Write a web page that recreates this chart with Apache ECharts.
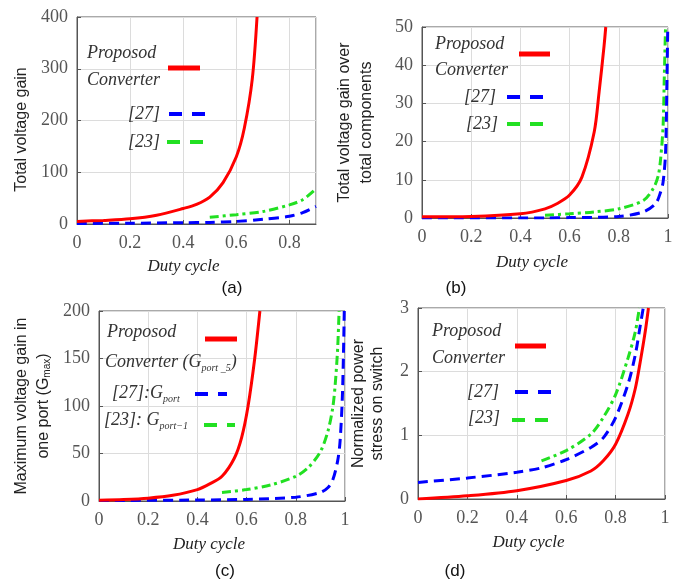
<!DOCTYPE html>
<html>
<head>
<meta charset="utf-8">
<title>Converter comparison versus duty cycle</title>
<script src="https://cdn.jsdelivr.net/npm/echarts@6/dist/echarts.min.js"></script>
<style>
  html, body { margin: 0; padding: 0; background: #fff; }
  #chart { width: 683px; height: 580px; }
</style>
</head>
<body>
<div id="chart"></div>
<script>
// ---- (a) total voltage gain ----
const dutyPropA = [0, 0.1, 0.2, 0.3, 0.4, 0.45, 0.5, 0.55, 0.6, 0.63, 0.66, 0.678];
const gainPropA = [5, 7, 10, 17, 30, 38, 52, 80, 130, 185, 280, 400];
const duty27A = [0, 0.2, 0.4, 0.5, 0.6, 0.7, 0.8, 0.85, 0.9];
const gain27A = [1, 1.5, 2.5, 3, 5, 9, 15, 22, 34];
const duty23A = [0.5, 0.6, 0.7, 0.8, 0.85, 0.9];
const gain23A = [13, 18, 24, 37, 47, 68];

// ---- (b) total voltage gain over total components ----
const dutyPropB = [0, 0.2, 0.4, 0.5, 0.55, 0.6, 0.65, 0.7, 0.72, 0.74, 0.747];
const gainPropB = [0.3, 0.4, 1.1, 2.4, 3.8, 6, 10.7, 22.5, 33, 45, 50];
const duty27B = [0, 0.5, 0.6, 0.8, 0.9, 0.95, 0.97, 0.98, 0.99, 0.995, 0.999];
const gain27B = [0, 0, 0.1, 0.4, 1.6, 3.8, 6.8, 9.4, 17, 33, 50];
const duty23B = [0.5, 0.6, 0.7, 0.8, 0.9, 0.94, 0.96, 0.97, 0.98, 0.985, 0.99];
const gain23B = [0.7, 1.1, 1.6, 2.4, 4.6, 7.7, 11, 15.5, 24, 37, 50];

// ---- (c) maximum voltage gain in one port ----
const dutyPropC = [0, 0.1, 0.2, 0.3, 0.4, 0.45, 0.5, 0.55, 0.58, 0.606, 0.633, 0.654];
const gainPropC = [0.7, 1.5, 3, 6, 12, 18, 26, 45, 67, 100, 150, 200];
const duty27C = [0, 0.4, 0.6, 0.8, 0.9, 0.93, 0.95, 0.97, 0.98, 0.99, 0.997];
const gain27C = [0.5, 1, 1.7, 4, 9, 14, 22, 42, 63, 115, 200];
const duty23C = [0.5, 0.6, 0.7, 0.8, 0.85, 0.9, 0.93, 0.95, 0.96, 0.97, 0.976];
const gain23C = [9, 12, 17, 26, 35, 52, 73, 98, 122, 160, 200];

// ---- (d) normalized power stress on switch ----
const dutyPropD = [0, 0.2, 0.4, 0.6, 0.7, 0.75, 0.8, 0.85, 0.88, 0.9, 0.92, 0.933];
const stressPropD = [0, 0.05, 0.13, 0.29, 0.44, 0.6, 0.86, 1.33, 1.74, 2.16, 2.63, 3];
const duty27D = [0, 0.2, 0.4, 0.5, 0.6, 0.7, 0.75, 0.8, 0.85, 0.88, 0.9, 0.912];
const stress27D = [0.26, 0.33, 0.42, 0.49, 0.62, 0.81, 0.96, 1.28, 1.8, 2.27, 2.73, 3];
const duty23D = [0.5, 0.6, 0.7, 0.75, 0.8, 0.85, 0.88, 0.896];
const stress23D = [0.6, 0.76, 1.02, 1.28, 1.64, 2.21, 2.63, 3];

// axis ranges and labels
const xMaxes = [0.9, 1, 1, 1];
const yMaxes = [400, 50, 200, 3];
const yIntervals = [100, 10, 50, 1];
const yTitles = [
  'Total voltage gain',
  'Total voltage gain over\ntotal components',
  'Maximum voltage gain in\none port (G{s|max})',
  'Normalized power\nstress on switch'
];
const panelTags = ['(a)', '(b)', '(c)', '(d)'];
const xTitle = 'Duty cycle';

const SERIF = 'Liberation Serif';
const SANS = 'Liberation Sans';

const RED = '#ff0000', BLUE = '#0000ff', GREEN = '#22e022';

const grids = [
  { left: 77, top: 17, width: 239, height: 207 },
  { left: 422, top: 27, width: 246, height: 191 },
  { left: 99, top: 311, width: 246, height: 190 },
  { left: 418, top: 308, width: 247, height: 191 }
];
const yNameGaps = [45, 44, 44, 31];
const yNameLineHeights = [20, 22, 22, 19];
const yNamePads = [[0, 18, 0, 0], 0, 0, 0];
const xNameGaps = [34, 36, 35, 35];

function pairs(xs, ys) { return xs.map((x, i) => [x, ys[i]]); }

const curveSets = [
  [pairs(dutyPropA, gainPropA), pairs(duty27A, gain27A), pairs(duty23A, gain23A)],
  [pairs(dutyPropB, gainPropB), pairs(duty27B, gain27B), pairs(duty23B, gain23B)],
  [pairs(dutyPropC, gainPropC), pairs(duty27C, gain27C), pairs(duty23C, gain23C)],
  [pairs(dutyPropD, stressPropD), pairs(duty27D, stress27D), pairs(duty23D, stress23D)]
];
const lineStyles = [
  { color: RED, width: 3 },
  { color: BLUE, width: 3, type: [10, 6] },
  { color: GREEN, width: 3, type: [9, 4, 3, 4] }
];
const seriesNames = ['Proposod Converter', '[27]', '[23]'];

const series = [];
curveSets.forEach((set, g) => {
  // green first, then blue, then red so the proposed curve stays on top
  [2, 1, 0].forEach(k => {
    series.push({
      type: 'line', name: seriesNames[k],
      xAxisIndex: g, yAxisIndex: g,
      data: set[k], showSymbol: false,
      smooth: 0.3,
      lineStyle: lineStyles[k], z: 3 + (2 - k)
    });
  });
});

const xAxes = grids.map((_, g) => ({
  type: 'value', gridIndex: g, min: 0, max: xMaxes[g], interval: 0.2,
  name: xTitle, nameLocation: 'middle', nameGap: xNameGaps[g],
  nameTextStyle: { fontFamily: SERIF, fontStyle: 'italic', fontSize: 17, color: '#222', padding: [0, 26, 0, 0] },
  axisLine: { show: true, lineStyle: { color: '#555', width: 1 } },
  axisTick: { show: true, inside: true, length: 4, lineStyle: { color: '#555' } },
  axisLabel: { fontFamily: SERIF, fontSize: 18, color: '#555', margin: 10, showMaxLabel: g !== 0 },
  splitLine: { show: true, lineStyle: { color: '#dcdcdc', width: 1 } }
}));

const yAxes = grids.map((_, g) => ({
  type: 'value', gridIndex: g, min: 0, max: yMaxes[g], interval: yIntervals[g],
  name: yTitles[g], nameLocation: 'middle', nameGap: yNameGaps[g],
  nameTextStyle: {
    fontFamily: SANS, fontSize: 16, color: '#222', lineHeight: yNameLineHeights[g],
    padding: yNamePads[g],
    rich: { s: { fontFamily: SANS, fontSize: 10, color: '#222', padding: [6, 0, 0, 0] } }
  },
  axisLine: { show: true, lineStyle: { color: '#555', width: 1 } },
  axisTick: { show: true, inside: true, length: 4, lineStyle: { color: '#555' } },
  axisLabel: { fontFamily: SERIF, fontSize: 18, color: '#555', margin: 9 },
  splitLine: { show: true, lineStyle: { color: '#dcdcdc', width: 1 } }
}));

// legend pieces
const legendFont = { fontFamily: SERIF, fontStyle: 'italic', fontSize: 18, fill: '#333' };
function label(x, y, text, align, rich) {
  return {
    type: 'text', x: x, y: y, z: 20,
    style: Object.assign({ text: text, textAlign: align, textVerticalAlign: 'middle', rich: rich || {} }, legendFont)
  };
}
function sample(x1, x2, y, color, width, dash) {
  return {
    type: 'line', z: 20,
    shape: { x1: x1, y1: y, x2: x2, y2: y },
    style: { stroke: color, lineWidth: width, lineDash: dash || null }
  };
}
const subRich = {
  sub: { fontFamily: SERIF, fontStyle: 'italic', fontSize: 10, fill: '#333', padding: [12, 0, 0, 0] }
};

const graphics = [
  // (a)
  label(87, 53, 'Proposod', 'left'), label(87, 80, 'Converter', 'left'),
  sample(168, 200, 68, RED, 5),
  label(160, 114, '[27]', 'right'), sample(169, 206, 114, BLUE, 4, [13, 10]),
  label(160, 142, '[23]', 'right'), sample(167, 203, 142, GREEN, 4, [13, 10]),
  // (b)
  label(435, 44, 'Proposod', 'left'), label(435, 70, 'Converter', 'left'),
  sample(519, 550, 54, RED, 5),
  label(496, 97, '[27]', 'right'), sample(507, 545, 97, BLUE, 4, [13, 10]),
  label(498, 124, '[23]', 'right'), sample(507, 544, 124, GREEN, 4, [13, 10]),
  // (c)
  label(107, 332, 'Proposod', 'left'),
  label(105, 362, 'Converter (G{sub|port _5})', 'left', subRich),
  sample(205, 237, 339, RED, 5),
  label(112, 393, '[27]:G{sub|port}', 'left', subRich), sample(195, 227, 394, BLUE, 4, [13, 10]),
  label(104, 420, '[23]: G{sub|port\u22121}', 'left', subRich), sample(204, 235, 425, GREEN, 4, [13, 10]),
  // (d)
  label(432, 331, 'Proposod', 'left'), label(432, 358, 'Converter', 'left'),
  sample(515, 546, 346, RED, 5),
  label(499, 392, '[27]', 'right'), sample(515, 552, 392, BLUE, 4, [13, 10]),
  label(500, 418, '[23]', 'right'), sample(512, 549, 420, GREEN, 4, [13, 10])
];
// panel tags
const tagPos = [[232, 288], [456, 288], [225, 571], [455, 571]];
panelTags.forEach((t, i) => {
  graphics.push({
    type: 'text', x: tagPos[i][0], y: tagPos[i][1], z: 20,
    style: { text: t, fontFamily: SANS, fontSize: 17, fill: '#111', textAlign: 'center', textVerticalAlign: 'middle' }
  });
});

const chart = echarts.init(document.getElementById('chart'), null, { renderer: 'canvas' });
chart.setOption({
  animation: false,
  backgroundColor: '#ffffff',
  grid: grids.map(g => Object.assign({ show: true, borderColor: '#555', borderWidth: 1, backgroundColor: 'transparent' }, g)),
  xAxis: xAxes,
  yAxis: yAxes,
  series: series,
  graphic: graphics
});
</script>
</body>
</html>
